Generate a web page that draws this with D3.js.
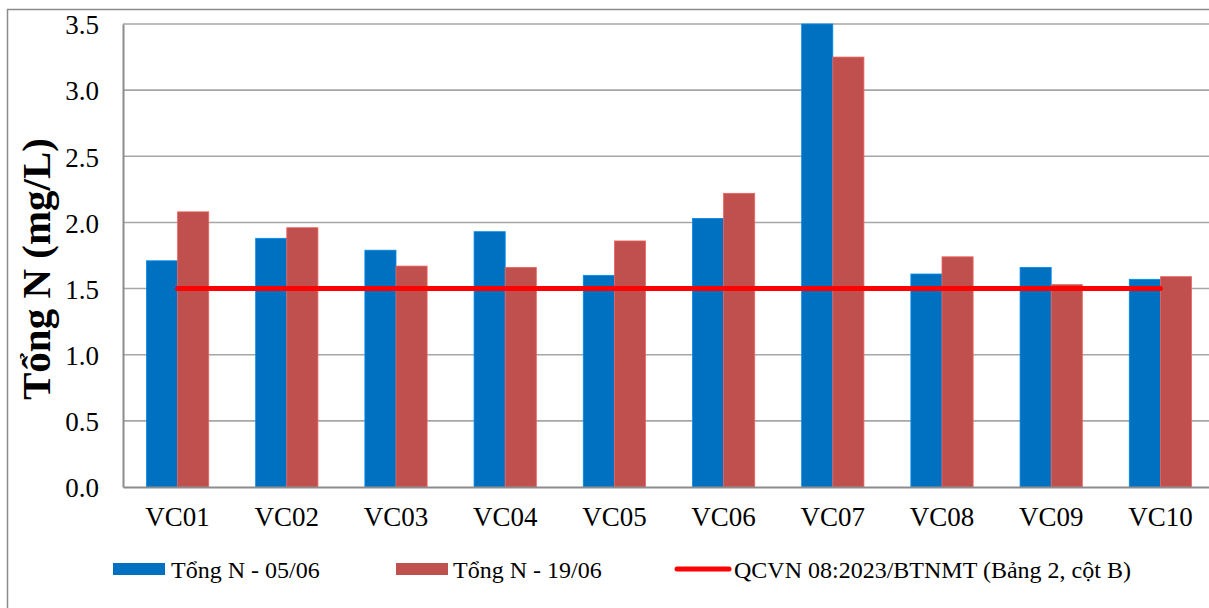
<!DOCTYPE html>
<html>
<head>
<meta charset="utf-8">
<script src="https://cdn.jsdelivr.net/npm/d3@7"></script>
<style>
  html, body { margin: 0; padding: 0; background: #fff; }
  svg { display: block; }
  svg text { font-family: "Liberation Serif", "Times New Roman", serif; fill: #000; }
</style>
</head>
<body>
<svg id="chart" width="1209" height="608"></svg>
<script>
// Monitoring points and total nitrogen results (mg/L)
const stations = ["VC01", "VC02", "VC03", "VC04", "VC05", "VC06", "VC07", "VC08", "VC09", "VC10"];
const seriesJun05 = [1.71, 1.88, 1.79, 1.93, 1.60, 2.03, 3.50, 1.61, 1.66, 1.57];
const seriesJun19 = [2.08, 1.96, 1.67, 1.66, 1.86, 2.22, 3.25, 1.74, 1.53, 1.59];
const limitValue = 1.5;
const yTicks = [0, 0.5, 1.0, 1.5, 2.0, 2.5, 3.0, 3.5];
const seriesNames = ["Tổng N - 05/06", "Tổng N - 19/06", "QCVN 08:2023/BTNMT (Bảng 2, cột B)"];

const svg = d3.select("#chart");
const W = 1209, H = 608;

// outer frame
svg.append("rect")
  .attr("x", 7.5).attr("y", 9.5)
  .attr("width", W).attr("height", H)
  .attr("fill", "none").attr("stroke", "#8c8c8c").attr("stroke-width", 1.5);

const plot = { left: 123, top: 24, right: 1215, bottom: 487 };

const x = d3.scaleBand().domain(stations).range([plot.left, plot.right]).paddingInner(0).paddingOuter(0);
const y = d3.scaleLinear().domain([0, 3.5]).range([plot.bottom, plot.top]);

// gridlines
svg.append("g").selectAll("line").data(yTicks.filter(t => t > 0)).join("line")
  .attr("x1", plot.left).attr("x2", plot.right)
  .attr("y1", d => y(d)).attr("y2", d => y(d))
  .attr("stroke", "#a6a6a6").attr("stroke-width", 1.6);

// bars
const barW = x.bandwidth() * 0.285;
const groups = [
  { values: seriesJun05, color: "#0070C0", offset: -1 },
  { values: seriesJun19, color: "#C0504D", offset: 0 }
];
groups.forEach(g => {
  svg.append("g").selectAll("rect").data(stations).join("rect")
    .attr("x", (d) => x(d) + x.bandwidth() / 2 + g.offset * barW)
    .attr("y", (d, i) => y(g.values[i]))
    .attr("width", barW)
    .attr("height", (d, i) => y(0) - y(g.values[i]))
    .attr("fill", g.color)
    .attr("stroke", d3.color(g.color).brighter(0.6))
    .attr("stroke-width", 0.8);
});

// axes
const yAxis = d3.axisLeft(y).tickValues(yTicks).tickFormat(d3.format(".1f")).tickSize(0).tickPadding(24);
const yg = svg.append("g").attr("transform", `translate(${plot.left},0)`).call(yAxis);
yg.attr("font-family", null).attr("font-size", null);
yg.select(".domain").attr("stroke", "#8c8c8c").attr("stroke-width", 2);
yg.selectAll("text").style("font-size", "27px").attr("dy", "0.36em");

const xAxis = d3.axisBottom(x).tickSize(0).tickPadding(20);
const xg = svg.append("g").attr("transform", `translate(0,${plot.bottom})`).call(xAxis);
xg.attr("font-family", null).attr("font-size", null);
xg.select(".domain").attr("stroke", "#8c8c8c").attr("stroke-width", 2);
xg.selectAll("text").style("font-size", "27px");

// regulation limit line
svg.append("line")
  .attr("x1", x(stations[0]) + x.bandwidth() / 2)
  .attr("x2", x(stations[stations.length - 1]) + x.bandwidth() / 2)
  .attr("y1", y(limitValue)).attr("y2", y(limitValue))
  .attr("stroke", "#FF0000").attr("stroke-width", 5).attr("stroke-linecap", "round");

// y-axis title
svg.append("text")
  .attr("transform", "translate(50,269) rotate(-90)")
  .attr("text-anchor", "middle")
  .style("font-size", "41px").style("font-weight", "bold")
  .text("Tổng N (mg/L)");

// legend
const legY = 569;
const leg = svg.append("g").style("font-size", "24px");
leg.append("rect").attr("x", 113).attr("y", legY - 6).attr("width", 52).attr("height", 12).attr("fill", "#0070C0");
leg.append("text").attr("x", 171).attr("y", legY + 9).text(seriesNames[0]);
leg.append("rect").attr("x", 396).attr("y", legY - 6).attr("width", 52).attr("height", 12).attr("fill", "#C0504D");
leg.append("text").attr("x", 453).attr("y", legY + 9).text(seriesNames[1]);
leg.append("line").attr("x1", 677).attr("x2", 729).attr("y1", legY).attr("y2", legY)
  .attr("stroke", "#FF0000").attr("stroke-width", 5).attr("stroke-linecap", "round");
leg.append("text").attr("x", 734).attr("y", legY + 9).text(seriesNames[2]);
</script>
</body>
</html>
